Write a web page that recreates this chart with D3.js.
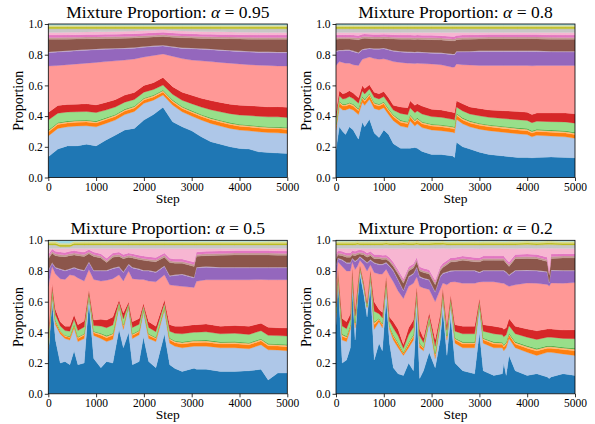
<!DOCTYPE html>
<html>
<head>
<meta charset="utf-8">
<script src="https://cdn.jsdelivr.net/npm/d3@7"></script>
<style>
body { margin: 0; background: #fff; }
svg { display: block; }
svg text { font-family: "Liberation Serif", "Times New Roman", serif; }
</style>
</head>
<body>
<div id="chart"></div>
<script>
// stack order, bottom to top (tab20, grey and cyan bands are too thin to see)
const layerKeys = ["blue", "lightBlue", "orange", "lightOrange", "green", "lightGreen", "red", "salmon",
  "purple", "lightPurple", "brown", "lightBrown", "magenta", "lightPink", "lightGray", "olive", "lightOlive", "lightCyan"];
const layerColors = ["#1f77b4", "#aec7e8", "#ff7f0e", "#ffbb78", "#2ca02c", "#98df8a", "#d62728", "#ff9896",
  "#9467bd", "#c5b0d5", "#8c564b", "#c49c94", "#e377c2", "#f7b6d2", "#c7c7c7", "#bcbd22", "#dbdb8d", "#9edae5"];
const xTicks = [0, 1000, 2000, 3000, 4000, 5000];
const yTicks = [0, 0.2, 0.4, 0.6, 0.8, 1.0];
const alphas = ["0.95", "0.8", "0.5", "0.2"];

// alpha = 0.95
const steps95 = [0, 200, 400, 600, 800, 1000, 1200, 1400, 1600, 1800, 2000, 2200, 2400, 2600, 2800, 3000,
  3200, 3400, 3600, 3800, 4000, 4200, 4400, 4600, 4800, 5000];
const p95 = [
  [0.135,0.185,0.206,0.206,0.217,0.206,0.243,0.276,0.31,0.32,0.374,0.41,0.457,0.363,0.33,0.304,0.265,0.233,0.217,0.2,0.189,0.185,0.167,0.163,0.159,0.157],
  [0.135,0.135,0.124,0.129,0.12,0.124,0.109,0.098,0.1,0.11,0.109,0.094,0.08,0.109,0.098,0.096,0.109,0.119,0.118,0.12,0.12,0.119,0.131,0.13,0.132,0.13],
  [0.026,0.026,0.025,0.025,0.025,0.025,0.024,0.024,0.023,0.023,0.022,0.021,0.02,0.021,0.022,0.023,0.024,0.024,0.025,0.025,0.025,0.025,0.025,0.025,0.026,0.026],
  [0.009,0.009,0.009,0.009,0.009,0.009,0.009,0.009,0.009,0.009,0.009,0.009,0.009,0.009,0.009,0.009,0.009,0.009,0.009,0.009,0.009,0.009,0.009,0.009,0.009,0.009],
  [0.004,0.004,0.004,0.004,0.004,0.004,0.004,0.004,0.004,0.004,0.004,0.004,0.004,0.004,0.004,0.004,0.004,0.004,0.004,0.004,0.004,0.004,0.004,0.004,0.004,0.004],
  [0.065,0.06,0.058,0.055,0.055,0.055,0.05,0.048,0.045,0.042,0.038,0.035,0.032,0.036,0.04,0.045,0.048,0.052,0.055,0.058,0.06,0.062,0.063,0.064,0.065,0.065],
  [0.05,0.05,0.05,0.05,0.05,0.05,0.05,0.048,0.046,0.045,0.044,0.045,0.05,0.05,0.052,0.055,0.057,0.06,0.061,0.062,0.063,0.064,0.065,0.065,0.066,0.066],
  [0.302,0.261,0.259,0.262,0.265,0.277,0.266,0.253,0.228,0.219,0.185,0.177,0.153,0.198,0.22,0.229,0.244,0.254,0.261,0.267,0.27,0.267,0.268,0.27,0.266,0.269],
  [0.087,0.087,0.086,0.085,0.084,0.082,0.08,0.077,0.074,0.07,0.063,0.058,0.052,0.058,0.066,0.073,0.075,0.077,0.078,0.079,0.08,0.082,0.083,0.084,0.086,0.087],
  [0.005,0.005,0.005,0.005,0.005,0.005,0.005,0.005,0.005,0.005,0.005,0.005,0.005,0.005,0.005,0.005,0.005,0.005,0.005,0.005,0.005,0.005,0.005,0.005,0.005,0.005],
  [0.082,0.078,0.075,0.072,0.069,0.067,0.065,0.064,0.063,0.062,0.059,0.057,0.056,0.06,0.064,0.065,0.066,0.068,0.071,0.074,0.077,0.079,0.08,0.081,0.082,0.082],
  [0.012,0.012,0.012,0.012,0.012,0.012,0.012,0.012,0.012,0.012,0.012,0.012,0.012,0.012,0.012,0.012,0.012,0.012,0.012,0.012,0.012,0.012,0.012,0.012,0.012,0.012],
  [0.016,0.016,0.016,0.016,0.016,0.016,0.016,0.016,0.016,0.016,0.016,0.016,0.016,0.016,0.016,0.016,0.016,0.016,0.016,0.016,0.016,0.016,0.016,0.016,0.016,0.016],
  [0.017,0.017,0.017,0.017,0.017,0.017,0.017,0.017,0.017,0.017,0.017,0.017,0.017,0.017,0.017,0.017,0.017,0.017,0.017,0.017,0.017,0.017,0.017,0.017,0.017,0.017],
  [0.024,0.024,0.023,0.022,0.021,0.02,0.019,0.018,0.017,0.015,0.012,0.009,0.006,0.011,0.014,0.016,0.018,0.019,0.02,0.021,0.022,0.023,0.024,0.024,0.024,0.024],
  [0.011,0.011,0.011,0.011,0.011,0.011,0.011,0.011,0.011,0.011,0.011,0.011,0.011,0.011,0.011,0.011,0.011,0.011,0.011,0.011,0.011,0.011,0.011,0.011,0.011,0.011],
  [0.012,0.012,0.012,0.012,0.012,0.012,0.012,0.012,0.012,0.012,0.012,0.012,0.012,0.012,0.012,0.012,0.012,0.012,0.012,0.012,0.012,0.012,0.012,0.012,0.012,0.012],
  [0.008,0.008,0.008,0.008,0.008,0.008,0.008,0.008,0.008,0.008,0.008,0.008,0.008,0.008,0.008,0.008,0.008,0.008,0.008,0.008,0.008,0.008,0.008,0.008,0.008,0.008]
];

// alpha = 0.8
const steps80 = [0, 70, 140, 200, 280, 360, 470, 550, 600, 700, 800, 900, 1000, 1100, 1200, 1350, 1500, 1550, 1650,
  1700, 1800, 2000, 2200, 2440, 2480, 2520, 2650, 2800, 3000, 3200, 3500, 3800, 4000, 4100, 4200, 4500, 4800, 5000];
const p80 = [
  [0.18,0.33,0.3,0.28,0.33,0.31,0.25,0.36,0.33,0.38,0.29,0.26,0.31,0.28,0.22,0.19,0.19,0.19,0.195,0.19,0.17,0.15,0.15,0.14,0.13,0.23,0.2,0.185,0.165,0.15,0.14,0.13,0.13,0.128,0.13,0.133,0.13,0.128],
  [0.13,0.13,0.14,0.16,0.12,0.13,0.16,0.13,0.14,0.13,0.16,0.18,0.145,0.13,0.15,0.145,0.135,0.18,0.14,0.16,0.155,0.16,0.155,0.155,0.16,0.15,0.15,0.145,0.15,0.155,0.155,0.155,0.15,0.137,0.145,0.137,0.135,0.127],
  [0.025,0.025,0.025,0.025,0.025,0.025,0.025,0.025,0.025,0.025,0.025,0.025,0.025,0.025,0.025,0.025,0.025,0.025,0.025,0.025,0.025,0.025,0.025,0.025,0.025,0.025,0.025,0.025,0.025,0.025,0.025,0.025,0.025,0.025,0.025,0.025,0.025,0.025],
  [0.01,0.01,0.01,0.01,0.01,0.01,0.01,0.01,0.01,0.01,0.01,0.01,0.01,0.01,0.01,0.01,0.01,0.01,0.01,0.01,0.01,0.01,0.01,0.01,0.01,0.01,0.01,0.01,0.01,0.01,0.01,0.01,0.01,0.01,0.01,0.01,0.01,0.01],
  [0.004,0.004,0.004,0.004,0.004,0.004,0.004,0.004,0.004,0.004,0.004,0.004,0.004,0.004,0.004,0.004,0.004,0.004,0.004,0.004,0.004,0.004,0.004,0.004,0.004,0.004,0.004,0.004,0.004,0.004,0.004,0.004,0.004,0.004,0.004,0.004,0.004,0.004],
  [0.04,0.033,0.033,0.035,0.038,0.035,0.035,0.035,0.035,0.028,0.033,0.033,0.033,0.035,0.03,0.043,0.045,0.045,0.048,0.045,0.05,0.048,0.048,0.045,0.045,0.04,0.045,0.045,0.048,0.048,0.05,0.053,0.053,0.053,0.053,0.055,0.058,0.06],
  [0.041,0.033,0.033,0.036,0.038,0.036,0.036,0.036,0.036,0.028,0.033,0.033,0.033,0.036,0.031,0.043,0.046,0.046,0.048,0.046,0.051,0.048,0.048,0.046,0.046,0.041,0.046,0.046,0.048,0.048,0.051,0.053,0.053,0.053,0.053,0.056,0.058,0.061],
  [0.3,0.19,0.205,0.195,0.18,0.185,0.21,0.17,0.195,0.18,0.22,0.225,0.213,0.245,0.285,0.29,0.29,0.245,0.272,0.265,0.277,0.295,0.295,0.293,0.3,0.24,0.255,0.273,0.28,0.29,0.295,0.3,0.305,0.318,0.31,0.31,0.31,0.315],
  [0.09,0.07,0.075,0.082,0.082,0.085,0.08,0.06,0.059,0.053,0.06,0.065,0.065,0.065,0.067,0.067,0.07,0.07,0.07,0.07,0.07,0.07,0.073,0.082,0.08,0.077,0.082,0.085,0.09,0.09,0.09,0.09,0.09,0.092,0.09,0.088,0.087,0.087],
  [0.005,0.005,0.005,0.005,0.005,0.005,0.005,0.005,0.005,0.005,0.005,0.005,0.005,0.005,0.005,0.005,0.005,0.005,0.005,0.005,0.005,0.005,0.005,0.005,0.005,0.005,0.005,0.005,0.005,0.005,0.005,0.005,0.005,0.005,0.005,0.005,0.005,0.005],
  [0.075,0.072,0.072,0.07,0.07,0.075,0.082,0.07,0.068,0.062,0.063,0.063,0.062,0.068,0.075,0.078,0.08,0.08,0.082,0.08,0.082,0.083,0.083,0.085,0.085,0.075,0.078,0.078,0.077,0.078,0.078,0.078,0.078,0.078,0.078,0.078,0.078,0.078],
  [0.012,0.012,0.012,0.012,0.012,0.012,0.012,0.012,0.012,0.012,0.012,0.012,0.012,0.012,0.012,0.012,0.012,0.012,0.012,0.012,0.012,0.012,0.012,0.012,0.012,0.012,0.012,0.012,0.012,0.012,0.012,0.012,0.012,0.012,0.012,0.012,0.012,0.012],
  [0.016,0.016,0.016,0.016,0.016,0.016,0.016,0.016,0.016,0.016,0.016,0.016,0.016,0.016,0.016,0.016,0.016,0.016,0.016,0.016,0.016,0.016,0.016,0.016,0.016,0.016,0.016,0.016,0.016,0.016,0.016,0.016,0.016,0.016,0.016,0.016,0.016,0.016],
  [0.017,0.015,0.015,0.015,0.015,0.017,0.02,0.012,0.01,0.012,0.014,0.014,0.012,0.014,0.015,0.017,0.017,0.017,0.018,0.017,0.018,0.019,0.021,0.027,0.027,0.02,0.017,0.016,0.015,0.014,0.014,0.014,0.014,0.014,0.014,0.016,0.017,0.017],
  [0.024,0.024,0.024,0.024,0.024,0.024,0.024,0.024,0.024,0.024,0.024,0.024,0.024,0.024,0.024,0.024,0.024,0.024,0.024,0.024,0.024,0.024,0.024,0.024,0.024,0.024,0.024,0.024,0.024,0.024,0.024,0.024,0.024,0.024,0.024,0.024,0.024,0.024],
  [0.011,0.011,0.011,0.011,0.011,0.011,0.011,0.011,0.011,0.011,0.011,0.011,0.011,0.011,0.011,0.011,0.011,0.011,0.011,0.011,0.011,0.011,0.011,0.011,0.011,0.011,0.011,0.011,0.011,0.011,0.011,0.011,0.011,0.011,0.011,0.011,0.011,0.011],
  [0.012,0.012,0.012,0.012,0.012,0.012,0.012,0.012,0.012,0.012,0.012,0.012,0.012,0.012,0.012,0.012,0.012,0.012,0.012,0.012,0.012,0.012,0.012,0.012,0.012,0.012,0.012,0.012,0.012,0.012,0.012,0.012,0.012,0.012,0.012,0.012,0.012,0.012],
  [0.008,0.008,0.008,0.008,0.008,0.008,0.008,0.008,0.008,0.008,0.008,0.008,0.008,0.008,0.008,0.008,0.008,0.008,0.008,0.008,0.008,0.008,0.008,0.008,0.008,0.008,0.008,0.008,0.008,0.008,0.008,0.008,0.008,0.008,0.008,0.008,0.008,0.008]
];

// alpha = 0.5
const steps50 = [0, 80, 150, 250, 350, 450, 540, 620, 750, 850, 950, 1100, 1220, 1350, 1480, 1570, 1680, 1760,
  1900, 1990, 2100, 2250, 2430, 2540, 2650, 2800, 3050, 3100, 3300, 3600, 3900, 4200, 4450, 4600, 4800, 5000];
const p50 = [
  [0.25,0.6,0.35,0.2,0.21,0.19,0.28,0.19,0.2,0.6,0.23,0.17,0.21,0.2,0.42,0.3,0.4,0.19,0.21,0.37,0.21,0.17,0.39,0.19,0.165,0.146,0.167,0.16,0.16,0.146,0.146,0.15,0.16,0.09,0.135,0.135],
  [0.04,0.045,0.1,0.19,0.15,0.16,0.15,0.15,0.16,0.045,0.15,0.19,0.13,0.155,0.15,0.12,0.17,0.17,0.175,0.167,0.15,0.17,0.16,0.14,0.145,0.154,0.143,0.15,0.15,0.154,0.154,0.143,0.16,0.197,0.15,0.145],
  [0.02,0.014,0.018,0.014,0.014,0.016,0.015,0.02,0.021,0.006,0.018,0.022,0.025,0.026,0.008,0.019,0.005,0.02,0.019,0.01,0.02,0.018,0.011,0.022,0.023,0.025,0.025,0.025,0.026,0.025,0.026,0.026,0.025,0.026,0.026,0.027],
  [0.008,0.005,0.007,0.006,0.006,0.006,0.006,0.008,0.008,0.003,0.007,0.009,0.01,0.01,0.003,0.007,0.002,0.008,0.007,0.004,0.008,0.007,0.004,0.008,0.009,0.01,0.01,0.01,0.01,0.01,0.01,0.01,0.01,0.01,0.01,0.01],
  [0.003,0.002,0.003,0.002,0.002,0.003,0.003,0.003,0.003,0.001,0.003,0.004,0.004,0.004,0.001,0.003,0.001,0.003,0.003,0.002,0.003,0.003,0.002,0.004,0.004,0.004,0.004,0.004,0.004,0.004,0.004,0.004,0.004,0.004,0.004,0.004],
  [0.041,0.028,0.037,0.03,0.03,0.033,0.031,0.041,0.043,0.013,0.037,0.046,0.052,0.054,0.016,0.039,0.011,0.041,0.039,0.02,0.041,0.037,0.023,0.044,0.048,0.052,0.052,0.052,0.054,0.052,0.054,0.054,0.052,0.054,0.054,0.055],
  [0.038,0.026,0.035,0.028,0.028,0.032,0.03,0.038,0.04,0.012,0.035,0.044,0.049,0.051,0.015,0.038,0.011,0.038,0.037,0.017,0.038,0.035,0.023,0.042,0.046,0.049,0.049,0.049,0.051,0.049,0.051,0.053,0.049,0.052,0.051,0.052],
  [0.3,0.11,0.23,0.28,0.305,0.335,0.255,0.305,0.26,0.13,0.265,0.25,0.26,0.25,0.162,0.209,0.2,0.28,0.255,0.155,0.265,0.29,0.162,0.26,0.265,0.26,0.243,0.283,0.288,0.303,0.298,0.303,0.285,0.31,0.313,0.315],
  [0.1,0.02,0.04,0.06,0.055,0.035,0.05,0.055,0.065,0.045,0.055,0.065,0.06,0.065,0.049,0.055,0.04,0.07,0.065,0.055,0.065,0.06,0.055,0.055,0.065,0.075,0.061,0.087,0.081,0.077,0.077,0.077,0.075,0.077,0.077,0.077],
  [0.005,0.005,0.005,0.005,0.005,0.005,0.005,0.005,0.005,0.005,0.005,0.005,0.005,0.005,0.005,0.005,0.005,0.005,0.005,0.005,0.005,0.005,0.005,0.005,0.005,0.005,0.005,0.005,0.005,0.005,0.005,0.005,0.005,0.005,0.005,0.005],
  [0.075,0.06,0.075,0.08,0.088,0.085,0.08,0.085,0.09,0.052,0.09,0.08,0.05,0.07,0.066,0.085,0.045,0.06,0.06,0.065,0.06,0.065,0.055,0.085,0.075,0.07,0.071,0.071,0.071,0.077,0.08,0.08,0.08,0.08,0.078,0.077],
  [0.012,0.012,0.012,0.012,0.012,0.012,0.012,0.012,0.012,0.012,0.012,0.012,0.012,0.012,0.012,0.012,0.012,0.012,0.012,0.012,0.012,0.012,0.012,0.012,0.012,0.012,0.012,0.012,0.012,0.012,0.012,0.012,0.012,0.012,0.012,0.012],
  [0.016,0.016,0.016,0.016,0.016,0.016,0.016,0.016,0.016,0.016,0.016,0.016,0.016,0.016,0.016,0.016,0.016,0.016,0.016,0.016,0.016,0.016,0.016,0.016,0.016,0.016,0.016,0.016,0.016,0.016,0.016,0.016,0.016,0.016,0.016,0.016],
  [0.038,0.003,0.018,0.023,0.025,0.018,0.013,0.018,0.023,0.006,0.023,0.033,0.063,0.028,0.023,0.038,0.028,0.033,0.043,0.048,0.053,0.058,0.028,0.063,0.068,0.068,0.088,0.022,0.018,0.016,0.013,0.013,0.013,0.013,0.015,0.016],
  [0.024,0.024,0.024,0.012,0.012,0.012,0.024,0.024,0.024,0.024,0.024,0.024,0.024,0.024,0.024,0.024,0.024,0.024,0.024,0.024,0.024,0.024,0.024,0.024,0.024,0.024,0.024,0.024,0.024,0.024,0.024,0.024,0.024,0.024,0.024,0.024],
  [0.011,0.011,0.011,0.011,0.011,0.011,0.011,0.011,0.011,0.011,0.011,0.011,0.011,0.011,0.011,0.011,0.011,0.011,0.011,0.011,0.011,0.011,0.011,0.011,0.011,0.011,0.011,0.011,0.011,0.011,0.011,0.011,0.011,0.011,0.011,0.011],
  [0.012,0.012,0.012,0.012,0.012,0.012,0.012,0.012,0.012,0.012,0.012,0.012,0.012,0.012,0.012,0.012,0.012,0.012,0.012,0.012,0.012,0.012,0.012,0.012,0.012,0.012,0.012,0.012,0.012,0.012,0.012,0.012,0.012,0.012,0.012,0.012],
  [0.008,0.008,0.008,0.02,0.02,0.02,0.008,0.008,0.008,0.008,0.008,0.008,0.008,0.008,0.008,0.008,0.008,0.008,0.008,0.008,0.008,0.008,0.008,0.008,0.008,0.008,0.008,0.008,0.008,0.008,0.008,0.008,0.008,0.008,0.008,0.008]
];

// alpha = 0.2
const steps20 = [0, 40, 130, 220, 300, 340, 400, 450, 500, 580, 650, 720, 800, 900, 970, 1050, 1120, 1200, 1300, 1410,
  1520, 1620, 1690, 1750, 1830, 1950, 2075, 2180, 2235, 2320, 2400, 2490, 2650, 2900, 3000, 3080, 3300, 3480, 3510,
  3560, 3620, 3750, 4000, 4200, 4420, 4460, 4500, 4750, 5000];
const p20 = [
  [0.45,0.76,0.2,0.22,0.3,0.68,0.35,0.6,0.78,0.65,0.5,0.7,0.22,0.33,0.28,0.62,0.33,0.17,0.13,0.12,0.2,0.15,0.55,0.1,0.15,0.27,0.17,0.35,0.55,0.25,0.5,0.2,0.15,0.13,0.4,0.15,0.12,0.13,0.2,0.12,0.25,0.15,0.12,0.13,0.11,0.1,0.11,0.13,0.12],
  [0.05,0.04,0.15,0.12,0.12,0.09,0.08,0.05,0.04,0.05,0.06,0.07,0.2,0.14,0.15,0.1,0.09,0.18,0.17,0.13,0.1,0.2,0.1,0.2,0.13,0.2,0.06,0.1,0.09,0.1,0.1,0.13,0.15,0.17,0.18,0.18,0.18,0.17,0.08,0.18,0.11,0.15,0.15,0.12,0.16,0.17,0.16,0.13,0.13],
  [0.018,0.004,0.025,0.023,0.018,0.011,0.022,0.009,0.004,0.005,0.007,0.007,0.032,0.014,0.018,0.009,0.014,0.022,0.022,0.013,0.023,0.023,0.009,0.022,0.015,0.011,0.022,0.013,0.009,0.018,0.008,0.022,0.025,0.025,0.008,0.022,0.025,0.023,0.025,0.023,0.023,0.025,0.027,0.029,0.027,0.027,0.027,0.028,0.03],
  [0.007,0.001,0.01,0.009,0.007,0.004,0.008,0.004,0.001,0.002,0.003,0.003,0.013,0.006,0.007,0.004,0.006,0.008,0.008,0.005,0.009,0.009,0.004,0.008,0.006,0.004,0.009,0.005,0.004,0.007,0.003,0.008,0.01,0.01,0.003,0.008,0.01,0.009,0.01,0.009,0.009,0.01,0.011,0.011,0.011,0.011,0.011,0.011,0.012],
  [0.003,0.001,0.004,0.004,0.003,0.002,0.004,0.002,0.001,0.001,0.001,0.001,0.005,0.002,0.003,0.002,0.002,0.004,0.004,0.002,0.004,0.004,0.002,0.004,0.002,0.002,0.004,0.002,0.002,0.003,0.001,0.004,0.004,0.004,0.001,0.004,0.004,0.004,0.004,0.004,0.004,0.004,0.005,0.005,0.005,0.005,0.005,0.005,0.005],
  [0.037,0.007,0.052,0.048,0.037,0.022,0.044,0.019,0.007,0.011,0.015,0.015,0.067,0.03,0.037,0.019,0.03,0.044,0.044,0.026,0.048,0.048,0.019,0.044,0.031,0.022,0.045,0.026,0.019,0.037,0.017,0.044,0.052,0.052,0.016,0.044,0.052,0.048,0.052,0.048,0.048,0.052,0.056,0.059,0.056,0.056,0.056,0.057,0.062],
  [0.035,0.007,0.049,0.046,0.035,0.021,0.042,0.018,0.007,0.011,0.014,0.014,0.063,0.028,0.035,0.018,0.028,0.042,0.042,0.025,0.046,0.046,0.018,0.042,0.029,0.021,0.043,0.025,0.018,0.035,0.016,0.042,0.049,0.049,0.015,0.042,0.049,0.046,0.049,0.046,0.046,0.049,0.053,0.056,0.053,0.053,0.053,0.054,0.058],
  [0.15,0.04,0.34,0.33,0.28,0.03,0.26,0.13,0.03,0.11,0.2,0.03,0.19,0.23,0.25,0.04,0.27,0.26,0.25,0.3,0.27,0.24,0.06,0.28,0.327,0.15,0.248,0.16,0.03,0.26,0.084,0.28,0.28,0.28,0.106,0.28,0.29,0.29,0.3,0.28,0.21,0.27,0.3,0.31,0.29,0.28,0.3,0.305,0.308],
  [0.09,0.02,0.04,0.05,0.05,0.02,0.05,0.04,0.02,0.03,0.05,0.03,0.06,0.06,0.06,0.04,0.06,0.07,0.07,0.05,0.06,0.06,0.06,0.06,0.06,0.06,0.06,0.08,0.06,0.08,0.07,0.07,0.08,0.08,0.06,0.07,0.07,0.08,0.08,0.08,0.07,0.09,0.08,0.08,0.08,0.02,0.08,0.08,0.075],
  [0.005,0.005,0.005,0.005,0.005,0.005,0.005,0.005,0.005,0.005,0.005,0.005,0.005,0.005,0.005,0.005,0.005,0.005,0.005,0.005,0.005,0.005,0.005,0.005,0.005,0.005,0.005,0.005,0.005,0.005,0.005,0.005,0.005,0.005,0.005,0.005,0.005,0.005,0.005,0.005,0.005,0.005,0.005,0.005,0.005,0.005,0.005,0.005,0.005],
  [0.035,0.02,0.025,0.035,0.035,0.02,0.035,0.03,0.015,0.03,0.035,0.025,0.025,0.035,0.03,0.02,0.025,0.025,0.035,0.045,0.035,0.035,0.035,0.035,0.035,0.035,0.045,0.035,0.035,0.045,0.055,0.055,0.065,0.055,0.065,0.065,0.065,0.065,0.065,0.055,0.055,0.075,0.075,0.075,0.065,0.045,0.075,0.08,0.08],
  [0.012,0.012,0.012,0.012,0.012,0.012,0.012,0.012,0.012,0.012,0.012,0.012,0.012,0.012,0.012,0.012,0.012,0.012,0.012,0.012,0.012,0.012,0.012,0.012,0.012,0.012,0.012,0.012,0.012,0.012,0.012,0.012,0.012,0.012,0.012,0.012,0.012,0.012,0.012,0.012,0.012,0.012,0.012,0.012,0.012,0.012,0.012,0.012,0.012],
  [0.016,0.016,0.016,0.016,0.016,0.016,0.016,0.016,0.016,0.016,0.016,0.016,0.016,0.016,0.016,0.016,0.016,0.016,0.016,0.016,0.016,0.016,0.016,0.016,0.016,0.016,0.016,0.016,0.016,0.016,0.016,0.016,0.016,0.016,0.016,0.016,0.016,0.016,0.016,0.016,0.016,0.016,0.016,0.016,0.016,0.016,0.016,0.016,0.016],
  [0.038,0.013,0.018,0.028,0.028,0.013,0.018,0.013,0.008,0.013,0.028,0.018,0.038,0.038,0.043,0.043,0.058,0.088,0.138,0.198,0.118,0.098,0.058,0.118,0.128,0.138,0.208,0.118,0.098,0.078,0.058,0.058,0.048,0.058,0.058,0.048,0.048,0.048,0.048,0.068,0.088,0.038,0.038,0.038,0.058,0.148,0.038,0.033,0.033],
  [0.024,0.024,0.024,0.024,0.024,0.024,0.024,0.024,0.024,0.024,0.024,0.024,0.024,0.024,0.024,0.024,0.024,0.024,0.024,0.024,0.024,0.024,0.024,0.024,0.024,0.024,0.024,0.024,0.024,0.024,0.024,0.024,0.024,0.024,0.024,0.024,0.024,0.024,0.024,0.024,0.024,0.024,0.024,0.024,0.024,0.024,0.024,0.024,0.024],
  [0.011,0.011,0.011,0.011,0.011,0.011,0.011,0.011,0.011,0.011,0.011,0.011,0.011,0.011,0.011,0.011,0.011,0.011,0.011,0.011,0.011,0.011,0.011,0.011,0.011,0.011,0.011,0.011,0.011,0.011,0.011,0.011,0.011,0.011,0.011,0.011,0.011,0.011,0.011,0.011,0.011,0.011,0.011,0.011,0.011,0.011,0.011,0.011,0.011],
  [0.012,0.012,0.012,0.012,0.012,0.012,0.012,0.012,0.012,0.012,0.012,0.012,0.012,0.012,0.012,0.012,0.012,0.012,0.012,0.012,0.012,0.012,0.012,0.012,0.012,0.012,0.012,0.012,0.012,0.012,0.012,0.012,0.012,0.012,0.012,0.012,0.012,0.012,0.012,0.012,0.012,0.012,0.012,0.012,0.012,0.012,0.012,0.012,0.012],
  [0.008,0.008,0.008,0.008,0.008,0.008,0.008,0.008,0.008,0.008,0.008,0.008,0.008,0.008,0.008,0.008,0.008,0.008,0.008,0.008,0.008,0.008,0.008,0.008,0.008,0.008,0.008,0.008,0.008,0.008,0.008,0.008,0.008,0.008,0.008,0.008,0.008,0.008,0.008,0.008,0.008,0.008,0.008,0.008,0.008,0.008,0.008,0.008,0.008]
];

const svgWidth = 595;
const svgHeight = 424;
const plotW = 239;
const plotH = 153.5;
const serif = '"Liberation Serif", "Times New Roman", serif';

const svg = d3.select("#chart")
    .append("svg")
    .attr("width", svgWidth)
    .attr("height", svgHeight);

const panels = [
    {left: 48.3, top: 24, steps: steps95, layers: p95, alpha: alphas[0]},
    {left: 336, top: 24, steps: steps80, layers: p80, alpha: alphas[1]},
    {left: 48.3, top: 240.3, steps: steps50, layers: p50, alpha: alphas[2]},
    {left: 336, top: 240.3, steps: steps20, layers: p20, alpha: alphas[3]}
];

panels.forEach(function (p, n) {
    const g = svg.append("g")
        .attr("transform", "translate(" + p.left + "," + p.top + ")");

    const x = d3.scaleLinear().domain([0, 5000]).range([0, plotW]);
    const y = d3.scaleLinear().domain([0, 1]).range([plotH, 0]);

    // one row per step, one column per band
    const rows = p.steps.map(function (s, i) {
        const r = {step: s};
        layerKeys.forEach(function (k, j) { r[k] = p.layers[j][i]; });
        return r;
    });
    const series = d3.stack().keys(layerKeys)(rows);

    const area = d3.area()
        .x(d => x(d.data.step))
        .y0(d => y(d[0]))
        .y1(d => y(d[1]));

    g.append("clipPath").attr("id", "clip" + n)
        .append("rect").attr("width", plotW).attr("height", plotH);

    g.append("g")
        .attr("clip-path", "url(#clip" + n + ")")
        .selectAll("path")
        .data(series)
        .enter().append("path")
        .attr("d", area)
        .attr("fill", (d, i) => layerColors[i])
        .attr("stroke", (d, i) => layerColors[i])
        .attr("stroke-width", 0.3);

    const xAxis = g.append("g")
        .attr("transform", "translate(0," + plotH + ")")
        .call(d3.axisBottom(x).tickValues(xTicks).tickSize(3.5).tickSizeOuter(0).tickPadding(2)
            .tickFormat(d3.format("d")));
    const yAxis = g.append("g")
        .call(d3.axisLeft(y).tickValues(yTicks).tickSize(3.5).tickSizeOuter(0).tickPadding(2)
            .tickFormat(d3.format(".1f")));

    [xAxis, yAxis].forEach(function (a) {
        a.attr("font-family", null).attr("font-size", null);
        a.select(".domain").remove();
        a.selectAll("line").attr("stroke", "#000").attr("stroke-width", 0.8);
        a.selectAll("text")
            .attr("fill", "#000")
            .style("font-family", serif)
            .style("font-size", "11.5px");
    });

    g.append("rect")
        .attr("width", plotW).attr("height", plotH)
        .attr("fill", "none").attr("stroke", "#000").attr("stroke-width", 0.8);

    const title = g.append("text")
        .attr("x", plotW / 2).attr("y", -6.5)
        .attr("text-anchor", "middle")
        .style("font-size", "17.5px");
    title.append("tspan").text("Mixture Proportion: ");
    title.append("tspan").attr("font-style", "italic").text("α");
    title.append("tspan").text(" = " + p.alpha);

    g.append("text")
        .attr("x", plotW / 2).attr("y", plotH + 25)
        .attr("text-anchor", "middle")
        .style("font-size", "13.5px")
        .text("Step");

    g.append("text")
        .attr("transform", "translate(-25," + plotH / 2 + ") rotate(-90)")
        .attr("text-anchor", "middle")
        .style("font-size", "14px")
        .text("Proportion");
});
</script>
</body>
</html>
